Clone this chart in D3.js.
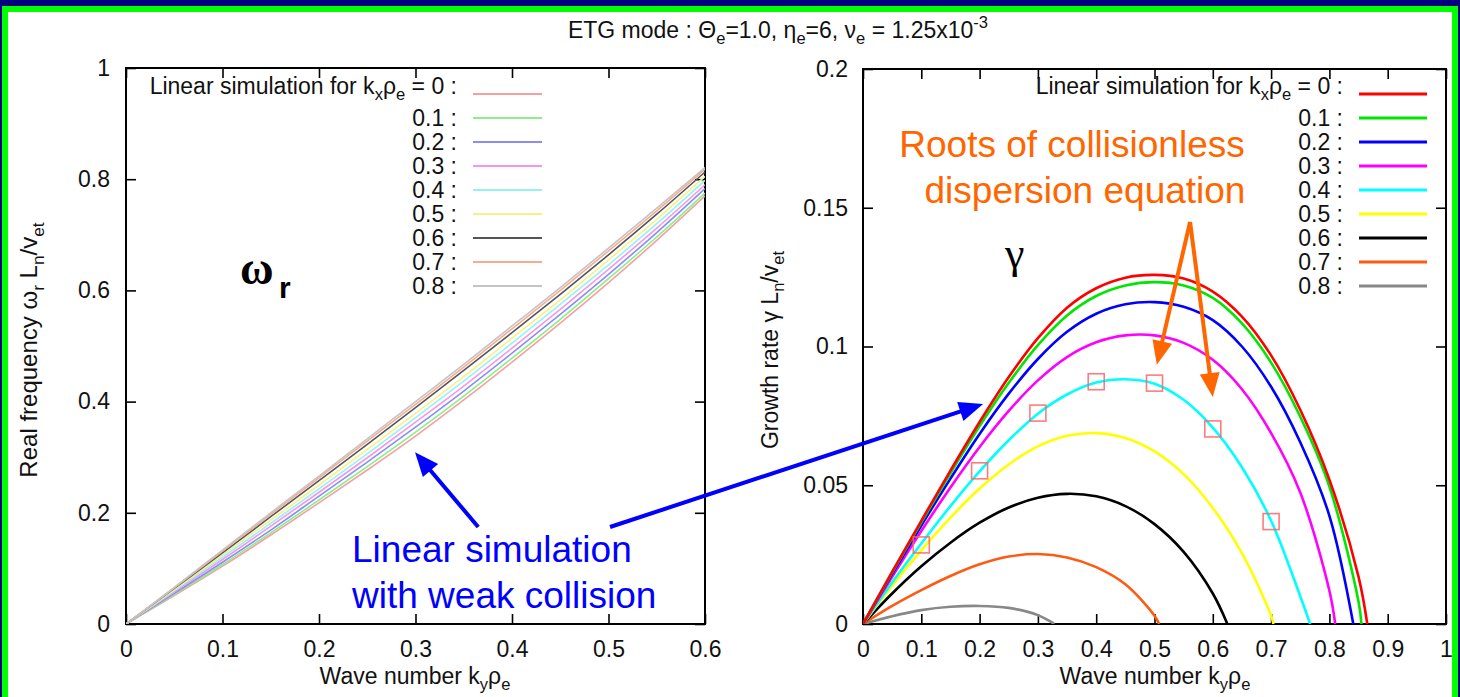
<!DOCTYPE html>
<html>
<head>
<meta charset="utf-8">
<script src="https://cdn.jsdelivr.net/npm/d3@7"></script>
<style>
html, body { margin: 0; padding: 0; background: #000080; overflow: hidden; }
svg { display: block; font-family: "Liberation Sans", Arial, sans-serif; }
text { white-space: pre; }
</style>
</head>
<body>
<svg id="chart" width="1460" height="697"></svg>
<script>
// ---- data ----
const kxLabels = ["0", "0.1", "0.2", "0.3", "0.4", "0.5", "0.6", "0.7", "0.8"];

// left panel : real frequency vs ky
const kyLeft = [0, 0.05, 0.1, 0.15, 0.2, 0.25, 0.3, 0.35, 0.4, 0.45, 0.5, 0.55, 0.6];
const omegaKx00 = [0, .051, .104, .160, .218, .277, .338, .403, .471, .541, .614, .690, .770];
const omegaKx01 = [0, .053, .107, .164, .223, .283, .345, .410, .478, .548, .621, .696, .775];
const omegaKx02 = [0, .055, .111, .169, .230, .291, .354, .419, .487, .557, .629, .704, .783];
const omegaKx03 = [0, .058, .116, .176, .237, .299, .363, .428, .496, .566, .638, .712, .790];
const omegaKx04 = [0, .060, .120, .181, .243, .306, .371, .437, .505, .575, .646, .720, .798];
const omegaKx05 = [0, .062, .124, .187, .250, .314, .379, .445, .514, .583, .655, .728, .805];
const omegaKx06 = [0, .064, .128, .193, .258, .323, .389, .456, .524, .593, .664, .737, .813];
const omegaKx07 = [0, .065, .131, .197, .263, .329, .395, .462, .531, .600, .671, .743, .818];
const omegaKx08 = [0, .066, .133, .200, .266, .333, .400, .467, .536, .605, .676, .748, .821];

// right panel : growth rate vs ky (last point is where the curve hits zero)
const kyRight = [0, 0.05, 0.1, 0.15, 0.2, 0.25, 0.3, 0.35, 0.4, 0.45, 0.5, 0.55, 0.6, 0.65, 0.7, 0.75, 0.8, 0.85];
const gammaKx00 = [0, .0188, .0372, .0553, .0728, .0890, .1030, .1140, .1210, .1248, .1258, .1245, .1198, .1108, .0968, .0772, .0520, .0170];
const gammaKx01 = [0, .0185, .0366, .0543, .0713, .0869, .1005, .1112, .1182, .1220, .1232, .1220, .1175, .1083, .0942, .0747, .0495, .0080];
const gammaKx02 = [0, .0180, .0355, .0524, .0685, .0830, .0955, .1053, .1118, .1152, .1160, .1143, .1095, .1000, .0855, .0655, .0390];
const gammaKx03 = [0, .0170, .0335, .0492, .0638, .0768, .0878, .0962, .1015, .1040, .1040, .1013, .0952, .0846, .0688, .0474, .0120];
const gammaKx04 = [0, .0150, .0290, .0425, .0550, .0662, .0758, .0827, .0870, .0882, .0866, .0808, .0708, .0565, .0372, .0100];
const gammaKx05 = [0, .0138, .0265, .0383, .0488, .0575, .0640, .0678, .0688, .0670, .0622, .0540, .0418, .0255, .0030];
const gammaKx06 = [0, .0110, .0208, .0293, .0365, .0420, .0455, .0469, .0460, .0425, .0360, .0260, .0110];
const gammaKx07 = [0, .0065, .0122, .0173, .0215, .0243, .0252, .0240, .0205, .0143, .0030];
const gammaKx08 = [0, .0028, .0050, .0062, .0065, .0058, .0032];
const gammaCutoff = [0.865, 0.855, 0.841, 0.81, 0.767, 0.704, 0.625, 0.508, 0.328];

// roots of the collisionless dispersion relation (open squares)
const rootKy = [0.1, 0.2, 0.3, 0.4, 0.5, 0.6, 0.7];
const rootGamma = [0.0285, 0.0552, 0.0760, 0.0873, 0.0868, 0.0703, 0.0369];

// tick values
const leftXTicks = [0, 0.1, 0.2, 0.3, 0.4, 0.5, 0.6];
const leftYTicks = [0, 0.2, 0.4, 0.6, 0.8, 1];
const rightXTicks = [0, 0.1, 0.2, 0.3, 0.4, 0.5, 0.6, 0.7, 0.8, 0.9, 1];
const rightYTicks = [0, 0.05, 0.1, 0.15, 0.2];

const brightColors = ["#ff0000", "#00e600", "#0000ff", "#ff00ff", "#00ffff", "#ffff00", "#000000", "#ff5a14", "#888888"];
const paleColors = ["#f4a0a0", "#8aee8a", "#8c8cf2", "#f296f2", "#96f2f2", "#f2f28a", "#555555", "#f8aa92", "#c4c4c4"];

const omegaSeries = [omegaKx00, omegaKx01, omegaKx02, omegaKx03, omegaKx04, omegaKx05, omegaKx06, omegaKx07, omegaKx08];
const gammaSeries = [gammaKx00, gammaKx01, gammaKx02, gammaKx03, gammaKx04, gammaKx05, gammaKx06, gammaKx07, gammaKx08];

// ---- drawing ----
const svg = d3.select("#chart");

// slide frame
svg.append("rect").attr("x", 2).attr("y", 6).attr("width", 1456).attr("height", 700).attr("fill", "#00ff00");
svg.append("rect").attr("x", 8).attr("y", 12).attr("width", 1444).attr("height", 700).attr("fill", "#ffffff");

// rich text with sub / superscripts
function rich(t, parts, size) {
    let shift = 0;
    parts.forEach(([s, mode]) => {
        const target = mode === "sub" ? 0.28 * size : mode === "sup" ? -0.42 * size : 0;
        t.append("tspan").attr("dy", target - shift).attr("font-size", mode ? size * 0.72 : size).text(s);
        shift = target;
    });
    return t;
}

function panel(x, y, xTicks, yTicks, xPad, yPad) {
    const g = svg.append("g");
    const [x0, x1] = x.range();
    const [y0, y1] = y.range();
    const fmt = d => d3.format("~g")(d);
    const styleAxis = a => {
        a.attr("font-family", null).attr("font-size", null);
        a.select(".domain").remove();
        a.selectAll(".tick line").attr("stroke", "#000").attr("stroke-width", 1.6);
        a.selectAll("text").attr("font-size", 23).attr("fill", "#111");
    };
    g.append("g").attr("transform", `translate(0,${y0})`)
        .call(d3.axisBottom(x).tickValues(xTicks).tickFormat(fmt).tickSizeInner(-10).tickSizeOuter(0).tickPadding(xPad))
        .call(styleAxis);
    g.append("g").attr("transform", `translate(0,${y1})`)
        .call(d3.axisTop(x).tickValues(xTicks).tickFormat("").tickSizeInner(-10).tickSizeOuter(0))
        .call(styleAxis);
    g.append("g").attr("transform", `translate(${x0},0)`)
        .call(d3.axisLeft(y).tickValues(yTicks).tickFormat(fmt).tickSizeInner(-10).tickSizeOuter(0).tickPadding(yPad))
        .call(styleAxis);
    g.append("g").attr("transform", `translate(${x1},0)`)
        .call(d3.axisRight(y).tickValues(yTicks).tickFormat("").tickSizeInner(-10).tickSizeOuter(0))
        .call(styleAxis);
    g.append("rect").attr("x", x0).attr("y", y1).attr("width", x1 - x0).attr("height", y0 - y1)
        .attr("fill", "none").attr("stroke", "#000").attr("stroke-width", 2);
    return g;
}

function legend(textRight, lineX0, lineX1, colors, width) {
    kxLabels.forEach((lab, i) => {
        const yy = 94 + i * 24;
        const t = svg.append("text").attr("x", textRight).attr("y", yy).attr("dy", "0.36em")
            .attr("text-anchor", "end").attr("fill", "#111");
        if (i === 0) rich(t, [["Linear simulation for k"], ["x", "sub"], ["ρ"], ["e", "sub"], [" = 0 :"]], 23);
        else t.attr("font-size", 23).text(lab + " :");
        svg.append("line").attr("x1", lineX0).attr("x2", lineX1).attr("y1", yy).attr("y2", yy)
            .attr("stroke", colors[i]).attr("stroke-width", width);
    });
}

function arrow(p1, p2, color, w, hl, hw) {
    const dx = p2[0] - p1[0], dy = p2[1] - p1[1];
    const len = Math.hypot(dx, dy), ux = dx / len, uy = dy / len;
    const bx = p2[0] - ux * hl, by = p2[1] - uy * hl;
    svg.append("line").attr("x1", p1[0]).attr("y1", p1[1]).attr("x2", bx + ux * 2).attr("y2", by + uy * 2)
        .attr("stroke", color).attr("stroke-width", w);
    svg.append("path")
        .attr("d", `M${p2[0]},${p2[1]}L${bx - uy * hw},${by + ux * hw}L${bx + uy * hw},${by - ux * hw}Z`)
        .attr("fill", color);
}

// title
rich(svg.append("text").attr("x", 778).attr("y", 38).attr("text-anchor", "middle").attr("fill", "#111"),
    [["ETG mode : Θ"], ["e", "sub"], ["=1.0, η"], ["e", "sub"], ["=6, ν"], ["e", "sub"], [" = 1.25x10"], ["-3", "sup"]], 23);

// ---------- left panel ----------
const xL = d3.scaleLinear().domain([0, 0.6]).range([126, 705]);
const yL = d3.scaleLinear().domain([0, 1]).range([624, 68]);
panel(xL, yL, leftXTicks, leftYTicks, 17, 16);

svg.append("clipPath").attr("id", "clipL").append("rect")
    .attr("x", 126).attr("y", 68).attr("width", 579).attr("height", 556);
const lineL = d3.line().x(d => xL(d[0])).y(d => yL(d[1])).curve(d3.curveCatmullRom.alpha(0.5));
const gL = svg.append("g").attr("clip-path", "url(#clipL)");
omegaSeries.forEach((s, i) => {
    gL.append("path").datum(kyLeft.map((k, j) => [k, s[j]]))
        .attr("d", lineL).attr("fill", "none").attr("stroke", paleColors[i]).attr("stroke-width", 1.6);
});
legend(457, 473, 542, paleColors, 1.8);

rich(svg.append("text").attr("transform", "translate(37,350) rotate(-90)").attr("text-anchor", "middle").attr("fill", "#111"),
    [["Real frequency ω"], ["r", "sub"], [" L"], ["n", "sub"], ["/v"], ["et", "sub"]], 24);
rich(svg.append("text").attr("x", 415).attr("y", 684).attr("text-anchor", "middle").attr("fill", "#111"),
    [["Wave number k"], ["y", "sub"], ["ρ"], ["e", "sub"]], 23);

svg.append("text").attr("x", 240).attr("y", 284).attr("font-family", "'Liberation Serif', serif")
    .attr("font-weight", "bold").attr("font-size", 46).text("ω");
svg.append("text").attr("x", 279).attr("y", 298).attr("font-weight", "bold").attr("font-size", 30).text("r");

// ---------- right panel ----------
const xR = d3.scaleLinear().domain([0, 1]).range([863, 1446]);
const yR = d3.scaleLinear().domain([0, 0.2]).range([624, 69]);
panel(xR, yR, rightXTicks, rightYTicks, 17, 15);

svg.append("clipPath").attr("id", "clipR").append("rect")
    .attr("x", 863).attr("y", 69).attr("width", 583).attr("height", 555);
const lineR = d3.line().x(d => xR(d[0])).y(d => yR(d[1])).curve(d3.curveCatmullRom.alpha(0.5));
const gR = svg.append("g").attr("clip-path", "url(#clipR)");
[8, 7, 6, 5, 4, 3, 2, 1, 0].forEach(i => {
    const pts = gammaSeries[i].map((v, j) => [kyRight[j], v]);
    pts.push([gammaCutoff[i], 0]);
    gR.append("path").datum(pts).attr("d", lineR).attr("fill", "none")
        .attr("stroke", brightColors[i]).attr("stroke-width", 2.6);
});
legend(1343, 1359, 1427, brightColors, 2.8);

svg.selectAll(".root").data(rootKy.map((k, i) => [k, rootGamma[i]])).join("rect")
    .attr("class", "root")
    .attr("x", d => xR(d[0]) - 8).attr("y", d => yR(d[1]) - 8)
    .attr("width", 16).attr("height", 16)
    .attr("fill", "none").attr("stroke", "#ff6464").attr("stroke-opacity", 0.85).attr("stroke-width", 1.6);

rich(svg.append("text").attr("transform", "translate(778,350) rotate(-90)").attr("text-anchor", "middle").attr("fill", "#111"),
    [["Growth rate γ L"], ["n", "sub"], ["/v"], ["et", "sub"]], 23);
rich(svg.append("text").attr("x", 1155).attr("y", 684).attr("text-anchor", "middle").attr("fill", "#111"),
    [["Wave number k"], ["y", "sub"], ["ρ"], ["e", "sub"]], 23);

svg.append("text").attr("x", 1005).attr("y", 268).attr("font-family", "'Liberation Serif', serif")
    .attr("font-size", 44).text("γ");

// ---------- annotations ----------
svg.append("text").attr("x", 352).attr("y", 562).attr("fill", "#0000ff").attr("font-size", 37).text("Linear simulation");
svg.append("text").attr("x", 352).attr("y", 608).attr("fill", "#0000ff").attr("font-size", 37).text("with weak collision");
arrow([xL(0.365), yL(0.1745)], [xL(0.2995), yL(0.309)], "#0000ff", 4, 24, 10);
arrow([xL(0.5016), yL(0.1745)], [xR(0.206), yR(0.0793)], "#0000ff", 4, 24, 10);

svg.append("text").attr("x", 1072).attr("y", 157).attr("text-anchor", "middle").attr("fill", "#ff6600")
    .attr("font-size", 37).text("Roots of collisionless");
svg.append("text").attr("x", 1085).attr("y", 203).attr("text-anchor", "middle").attr("fill", "#ff6600")
    .attr("font-size", 37).text("dispersion equation");
arrow([xR(0.561), yR(0.1449)], [xR(0.504), yR(0.0934)], "#ff6600", 4, 24, 10);
arrow([xR(0.561), yR(0.1449)], [xR(0.600), yR(0.0818)], "#ff6600", 4, 24, 10);
</script>
</body>
</html>
